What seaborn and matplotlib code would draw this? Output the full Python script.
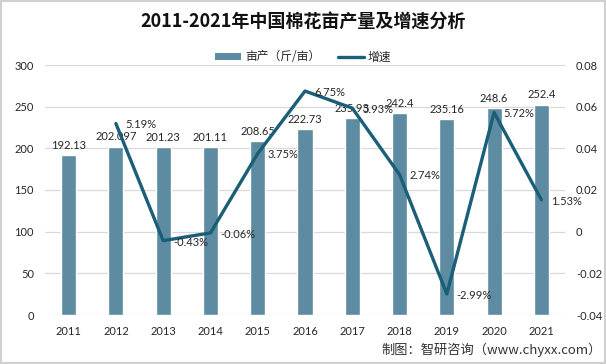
import matplotlib
matplotlib.use("Agg")
import matplotlib.pyplot as plt
import seaborn as sns
import pandas as pd
import numpy as np
from matplotlib.patches import Patch, Rectangle
from matplotlib.lines import Line2D

years = [2011, 2012, 2013, 2014, 2015, 2016, 2017, 2018, 2019, 2020, 2021]
yield_vals = [192.13, 202.097, 201.23, 201.11, 208.65, 222.73, 235.93, 242.4, 235.16, 248.6, 252.4]
bar_labels = ["192.13", "202.097", "201.23", "201.11", "208.65", "222.73", "235.93", "242.4", "235.16", "248.6", "252.4"]
growth_years = [2012, 2013, 2014, 2015, 2016, 2017, 2018, 2019, 2020, 2021]
growth_vals = [0.0519, -0.0043, -0.0006, 0.0375, 0.0675, 0.0593, 0.0274, -0.0299, 0.0572, 0.0153]
growth_labels = ["5.19%", "-0.43%", "-0.06%", "3.75%", "6.75%", "5.93%", "2.74%", "-2.99%", "5.72%", "1.53%"]
left_ticks = [0, 50, 100, 150, 200, 250, 300]
right_ticks = [-0.04, -0.02, 0, 0.02, 0.04, 0.06, 0.08]
right_tick_labels = ["-0.04", "-0.02", "0", "0.02", "0.04", "0.06", "0.08"]

title = "2011-2021年中国棉花亩产量及增速分析"
bar_name = "亩产（斤/亩）"
line_name = "增速"
source = "制图：智研咨询（www.chyxx.com）"

sns.set_theme(style="white")
CJK = ["Noto Sans CJK SC", "DejaVu Sans"]
NUM = ["Lato", "DejaVu Sans"]
plt.rcParams["font.family"] = CJK

BAR_C = "#5D8BA1"
LINE_C = "#1B5E78"
GRID_C = "#D9D9D9"
TXT_C = "#262626"

fig = plt.figure(figsize=(6.06, 3.64), dpi=100)
fig.patches.append(Rectangle((0.002, 0.002), 0.996, 0.996, transform=fig.transFigure,
                             fill=False, edgecolor="#D0D0D0", linewidth=1.5))
ax = fig.add_axes([45/606, 1-315/364, 520/606, 250/364])

df_bar = pd.DataFrame({"year": years, "val": yield_vals})
sns.barplot(data=df_bar, x="year", y="val", native_scale=True, width=0.32,
            color=BAR_C, saturation=1, ax=ax, zorder=2)
ax.set_xlim(2010.5, 2021.5)
ax.set_ylim(0, 300)
ax.set_yticks(left_ticks)
ax.set_xticks(years)
ax.set_xticklabels([str(y) for y in years], family=NUM, fontsize=8, color=TXT_C)
ax.set_yticklabels([str(t) for t in left_ticks], family=NUM, fontsize=8, color=TXT_C)
ax.grid(axis="y", color=GRID_C, linewidth=0.9, zorder=0)
ax.set_axisbelow(True)
for s in ax.spines.values():
    s.set_visible(False)
ax.tick_params(axis="both", length=0, pad=8)
ax.set_xlabel("")
ax.set_ylabel("")

for yr, v, lab in zip(years, yield_vals, bar_labels):
    ax.annotate(lab, (yr, v), xytext=(0, 3), textcoords="offset points",
                ha="center", va="bottom", family=NUM, fontsize=8, color=TXT_C, zorder=5)

ax2 = ax.twinx()
df_line = pd.DataFrame({"year": growth_years, "g": growth_vals})
sns.lineplot(data=df_line, x="year", y="g", color=LINE_C, linewidth=2.4, ax=ax2, zorder=3)
ax2.set_ylim(-0.04, 0.08)
ax2.set_yticks(right_ticks)
ax2.set_yticklabels(right_tick_labels, family=NUM, fontsize=8, color=TXT_C)
ax2.tick_params(axis="y", length=0, pad=8)
ax2.set_xlabel("")
ax2.set_ylabel("")
for s in ax2.spines.values():
    s.set_visible(False)
ax2.grid(False)
ax2.set_xlim(2010.5, 2021.5)

for yr, g, lab in zip(growth_years, growth_vals, growth_labels):
    ax2.annotate(lab, (yr, g), xytext=(7, -1), textcoords="offset points",
                 ha="left", va="center", family=NUM, fontsize=8, color=TXT_C, zorder=6)

fig.text(0.5, 1-22/364, title, ha="center", va="center", fontsize=13,
         fontweight="bold", family=CJK, color="#111111")

handles = [Patch(facecolor=BAR_C, edgecolor="none"),
           Line2D([0], [0], color=LINE_C, linewidth=2.4)]
leg = fig.legend(handles, [bar_name, line_name], loc="center", bbox_to_anchor=(0.5, 1-57/364),
                 ncol=2, frameon=False, fontsize=8.5, handlelength=2.2, handleheight=0.6,
                 columnspacing=1.5, handletextpad=0.3)
for t in leg.get_texts():
    t.set_color(TXT_C)

fig.text(1-4/606, 1-350/364, source, ha="right", va="center", fontsize=9.5,
         family=CJK, color="#333333")

fig.savefig("out.png", dpi=100)
